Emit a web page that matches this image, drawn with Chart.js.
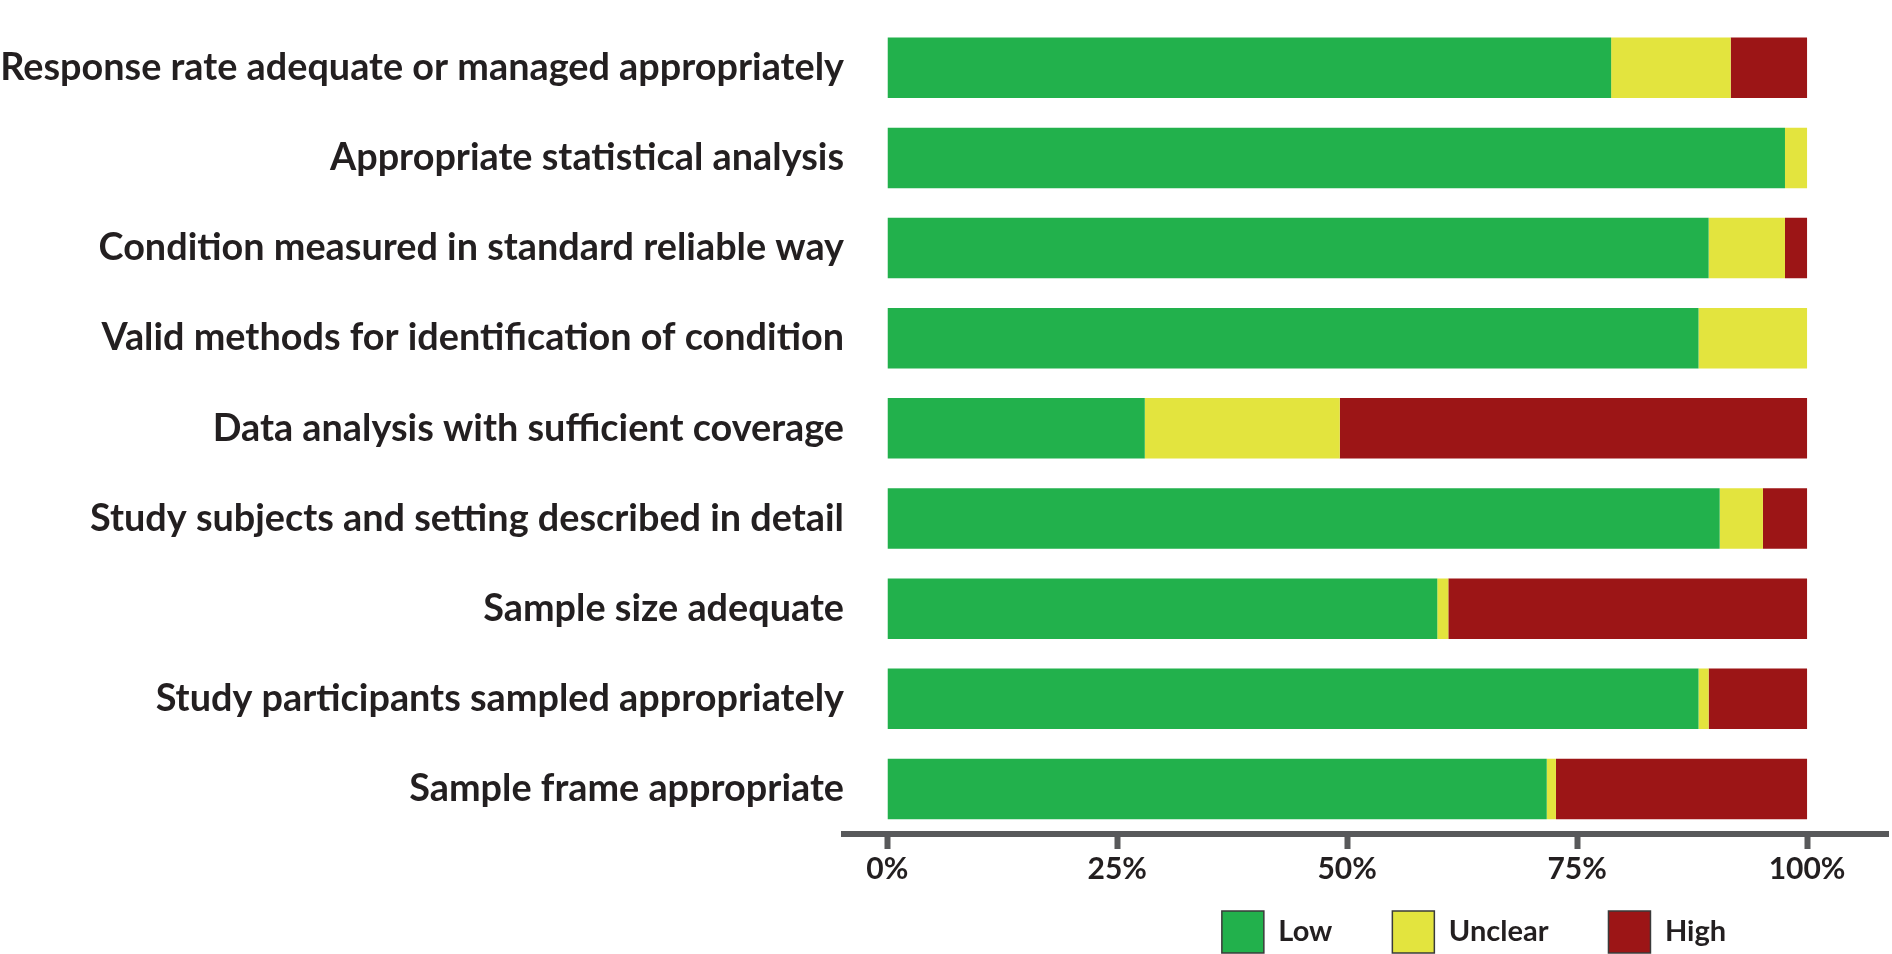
<!DOCTYPE html>
<html>
<head>
<meta charset="utf-8">
<script src="https://cdn.jsdelivr.net/npm/chart.js@4.4.0/dist/chart.umd.min.js"></script>
<style>
  html, body { margin: 0; padding: 0; background: #fff; }
  #wrap { width: 1892px; height: 954px; }
</style>
</head>
<body>
<div id="wrap"><canvas id="riskChart"></canvas></div>
<script>
const domains = [
  "Response rate adequate or managed appropriately",
  "Appropriate statistical analysis",
  "Condition measured in standard reliable way",
  "Valid methods for identification of condition",
  "Data analysis with sufficient coverage",
  "Study subjects and setting described in detail",
  "Sample size adequate",
  "Study participants sampled appropriately",
  "Sample frame appropriate"
];
const lowRisk     = [78.7, 97.6, 89.3, 88.2, 28.0, 90.5, 59.8, 88.2, 71.7];
const unclearRisk = [13.0,  2.4,  8.3, 11.8, 21.2,  4.7,  1.2,  1.1,  1.0];
const highRisk    = [ 8.3,  0.0,  2.4,  0.0, 50.8,  4.8, 39.0, 10.7, 27.3];
const percentTicks = [0, 25, 50, 75, 100];

const textColor = "#231f20";
const axisColor = "#58595b";

// moves the legend under the right part of the axis, as in the original figure
// (only the top is raised so the legend clip area still reaches the canvas bottom)
const legendShift = {
  id: "legendShift",
  afterLayout(chart) {
    const lg = chart.legend;
    lg.left += 530; lg.right += 530;
    lg.top -= 41;
  }
};

function initChart() {
  const barData = {
    labels: domains,
    datasets: [
      { label: "Low", data: lowRisk, backgroundColor: "#22b14c" },
      { label: "Unclear", data: unclearRisk, backgroundColor: "#e3e43e" },
      { label: "High", data: highRisk, backgroundColor: "#9c1516" }
    ]
  };

  new Chart(document.getElementById("riskChart"), {
    type: "bar",
    data: barData,
    plugins: [legendShift],
    options: {
      indexAxis: "y",
      responsive: true,
      maintainAspectRatio: false,
      animation: false,
      layout: { padding: { top: 18, right: 4, left: 0, bottom: 0 } },
      datasets: {
        bar: { categoryPercentage: 1, barPercentage: 0.671, borderWidth: 0 }
      },
      scales: {
        x: {
          stacked: true,
          min: -4.7,
          max: 108.8,
          afterBuildTicks(scale) {
            scale.ticks = percentTicks.map(v => ({ value: v }));
          },
          afterFit(scale) { scale.height = 58; },
          border: { display: true, color: axisColor, width: 6 },
          grid: {
            drawOnChartArea: false,
            drawTicks: true,
            tickLength: 15,
            tickWidth: 6,
            tickColor: axisColor
          },
          ticks: {
            autoSkip: false,
            maxRotation: 0,
            padding: 2,
            color: textColor,
            font: { family: "Lato", weight: "bold", size: 30 },
            callback: v => v + "%"
          }
        },
        y: {
          stacked: true,
          afterFit(scale) { scale.width = 844; },
          border: { display: false },
          grid: { display: false, drawTicks: false },
          ticks: {
            padding: 0,
            color: textColor,
            font: { family: "Lato", weight: "bold", size: 37.8 }
          }
        }
      },
      plugins: {
        tooltip: { enabled: false },
        legend: {
          position: "bottom",
          maxHeight: 62,
          labels: {
            boxWidth: 42,
            boxHeight: 42,
            padding: 60,
            color: textColor,
            font: { family: "Lato", weight: "bold", size: 29 },
            generateLabels(chart) {
              const items = Chart.defaults.plugins.legend.labels.generateLabels(chart);
              items.forEach(it => { it.strokeStyle = "#3a3a3a"; it.lineWidth = 1.5; });
              return items;
            }
          }
        }
      }
    }
  });
}

initChart();
</script>
</body>
</html>
